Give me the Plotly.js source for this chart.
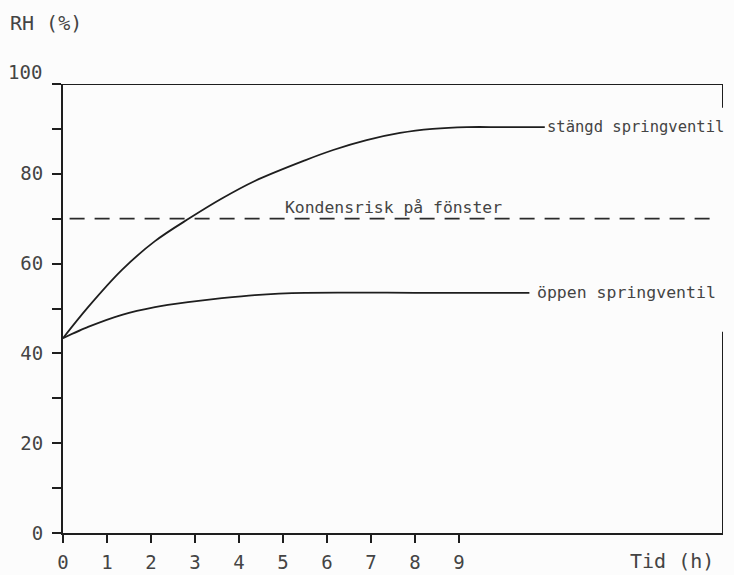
<!DOCTYPE html>
<html>
<head>
<meta charset="utf-8">
<script src="https://cdn.plot.ly/plotly-3.0.1.min.js"></script>
<style>
html,body{margin:0;padding:0;background:#fcfcfc;}
#chart{width:734px;height:575px;}
</style>
</head>
<body>
<div id="chart"></div>
<script>
// ---- data ----
const stangdTime = [0, 0.57, 1.34, 2.09, 2.89, 3.61, 4.36, 5.5, 6.14, 6.9, 7.66, 8.4, 9.18, 10.0, 10.95];
const stangdRH   = [43.4, 50.3, 58.6, 65.0, 70.2, 74.5, 78.4, 83.0, 85.3, 87.5, 89.1, 90.0, 90.4, 90.4, 90.4];
const oppenTime  = [0, 0.57, 1.34, 2.09, 2.84, 3.61, 4.36, 5.5, 8.0, 10.6];
const oppenRH    = [43.4, 45.9, 48.6, 50.3, 51.4, 52.3, 53.0, 53.5, 53.5, 53.5];
const kondensTime = [0.15, 14.8];
const kondensRH   = [70, 70];
const xTickVals = [0, 1, 2, 3, 4, 5, 6, 7, 8, 9];
const xTickText = ['0', '1', '2', '3', '4', '5', '6', '7', '8', '9'];
const yTickVals = [0, 10, 20, 30, 40, 50, 60, 70, 80, 90, 100];
const yTickText = ['0', '', '20', '', '40', '', '60', '', '80', '', ''];
const labels = {
  stangd: 'stängd springventil',
  oppen: 'öppen springventil',
  kondens: 'Kondensrisk på fönster',
  yTitle: 'RH (%)',
  xTitle: 'Tid (h)',
  yTop: '100'
};

// ---- styles ----
const ink = '#1e1e1e';
const textInk = '#444444';
const mono = 'DejaVu Sans Mono, Liberation Mono, monospace';

const traces = [
  {x: stangdTime, y: stangdRH, mode: 'lines', line: {color: ink, width: 1.8, shape: 'spline', smoothing: 1}, hoverinfo: 'skip'},
  {x: oppenTime, y: oppenRH, mode: 'lines', line: {color: ink, width: 1.8, shape: 'spline', smoothing: 0.6}, hoverinfo: 'skip'},
  {x: kondensTime, y: kondensRH, mode: 'lines', line: {color: '#2a2a2a', width: 1.8, dash: '15px,10px'}, hoverinfo: 'skip'}
];

const W = 660, H = 449; // plot area size in px
const L = 63, T = 84;
function px(x){ return (x - L) / W; }
function py(y){ return (T + H - y) / H; }

const layout = {
  width: 734, height: 575,
  margin: {l: 63, r: 11, t: 84, b: 42},
  paper_bgcolor: '#fcfcfc',
  plot_bgcolor: '#fcfcfc',
  showlegend: false,
  xaxis: {
    range: [0, 15], showgrid: false, zeroline: false,
    showline: true, linecolor: ink, linewidth: 2,
    ticks: 'outside', ticklen: 8, tickwidth: 2, tickcolor: ink,
    tickvals: xTickVals, ticktext: xTickText, ticklabelstandoff: 3,
    tickfont: {family: mono, size: 19, color: textInk}
  },
  yaxis: {
    range: [0, 100], showgrid: false, zeroline: false,
    showline: true, linecolor: ink, linewidth: 2,
    ticks: 'outside', ticklen: 9, tickwidth: 2, tickcolor: ink,
    tickvals: yTickVals, ticktext: yTickText, ticklabelstandoff: 5,
    tickfont: {family: mono, size: 19, color: textInk}
  },
  shapes: [
    {type: 'line', xref: 'x', yref: 'y', x0: 0, x1: 15, y0: 100, y1: 100, line: {color: ink, width: 2}},
    {type: 'line', xref: 'x', yref: 'y', x0: 15, x1: 15, y0: 94.7, y1: 100, line: {color: ink, width: 2}},
    {type: 'line', xref: 'x', yref: 'y', x0: 15, x1: 15, y0: 0, y1: 44.8, line: {color: ink, width: 2}}
  ],
  annotations: [
    {xref: 'x', yref: 'y', x: 10.95, y: 90.4, text: labels.stangd, showarrow: false, xanchor: 'left', yanchor: 'middle',
     font: {family: mono, size: 15.5, color: textInk}},
    {xref: 'x', yref: 'y', x: 10.73, y: 53.5, text: labels.oppen, showarrow: false, xanchor: 'left', yanchor: 'middle',
     font: {family: mono, size: 16.5, color: textInk}},
    {xref: 'x', yref: 'y', x: 5.0, y: 72.6, text: labels.kondens, showarrow: false, xanchor: 'left', yanchor: 'middle',
     font: {family: mono, size: 16.4, color: textInk}},
    {xref: 'paper', yref: 'paper', x: px(8), y: py(23), text: labels.yTitle, showarrow: false, xanchor: 'left', yanchor: 'middle',
     font: {family: mono, size: 20, color: textInk}},
    {xref: 'paper', yref: 'paper', x: px(628), y: py(561), text: labels.xTitle, showarrow: false, xanchor: 'left', yanchor: 'middle',
     font: {family: mono, size: 20, color: textInk}},
    {xref: 'paper', yref: 'paper', x: px(44), y: py(72), text: labels.yTop, showarrow: false, xanchor: 'right', yanchor: 'middle',
     font: {family: mono, size: 19, color: textInk}}
  ]
};

Plotly.newPlot('chart', traces, layout, {staticPlot: true, displayModeBar: false});
</script>
</body>
</html>
